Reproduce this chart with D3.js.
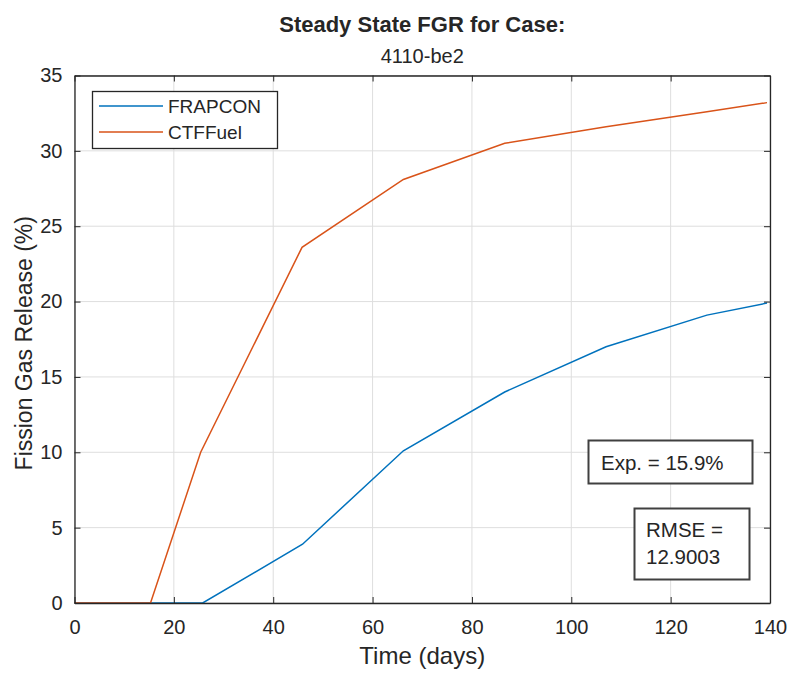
<!DOCTYPE html>
<html>
<head>
<meta charset="utf-8">
<script src="https://cdn.jsdelivr.net/npm/d3@7/dist/d3.min.js"></script>
<style>
  body { margin: 0; background: #fff; }
  svg text { font-family: "Liberation Sans", Arial, sans-serif; fill: #262626; }
</style>
</head>
<body>
<svg id="chart" width="793" height="675"></svg>
<script>
// data
const timeFrapcon = [0, 25.8, 45.9, 66.2, 86.6, 107, 127.3, 139.4];
const fgrFrapcon  = [0, 0, 3.9, 10.1, 14.0, 17.0, 19.1, 19.9];
const timeCtf     = [0, 15.3, 25.4, 45.8, 66.2, 86.6, 107, 127.3, 139.4];
const fgrCtf      = [0, 0, 10.0, 23.6, 28.1, 30.5, 31.6, 32.6, 33.2];

const xTicks = [0, 20, 40, 60, 80, 100, 120, 140];
const yTicks = [0, 5, 10, 15, 20, 25, 30, 35];

const seriesNames = ['FRAPCON', 'CTFFuel'];
const seriesColors = ['#0072BD', '#D95319'];

const expText = 'Exp. = 15.9%';
const rmseLines = ['RMSE =', '12.9003'];

const margin = {left: 74.5, right: 23, top: 75.5, bottom: 72};
const W = 793, H = 675;
const svg = d3.select('#chart');

const x = d3.scaleLinear().domain([0, 140]).range([margin.left, W - margin.right]);
const y = d3.scaleLinear().domain([0, 35]).range([H - margin.bottom, margin.top]);

// grid
const grid = svg.append('g');
grid.selectAll('line.gx').data(xTicks).enter().append('line')
  .attr('x1', d => x(d)).attr('x2', d => x(d))
  .attr('y1', y(0)).attr('y2', y(35))
  .attr('stroke', '#dedede').attr('stroke-width', 1);
grid.selectAll('line.gy').data(yTicks).enter().append('line')
  .attr('x1', x(0)).attr('x2', x(140))
  .attr('y1', d => y(d)).attr('y2', d => y(d))
  .attr('stroke', '#dedede').attr('stroke-width', 1);

// lines
const line = d3.line().x(d => x(d[0])).y(d => y(d[1]));
const frapcon = timeFrapcon.map((t, i) => [t, fgrFrapcon[i]]);
const ctf = timeCtf.map((t, i) => [t, fgrCtf[i]]);

svg.append('path').datum(frapcon)
  .attr('d', line).attr('fill', 'none')
  .attr('stroke', seriesColors[0]).attr('stroke-width', 1.5);
svg.append('path').datum(ctf)
  .attr('d', line).attr('fill', 'none')
  .attr('stroke', seriesColors[1]).attr('stroke-width', 1.5);

// axes, matlab style: ticks inside, box all round
const tickLen = -6;
const xAxis = d3.axisBottom(x).tickValues(xTicks).tickSizeInner(tickLen).tickSizeOuter(0).tickPadding(17);
const yAxis = d3.axisLeft(y).tickValues(yTicks).tickSizeInner(tickLen).tickSizeOuter(0).tickPadding(12);
const xTop = d3.axisTop(x).tickValues(xTicks).tickSizeInner(tickLen).tickSizeOuter(0).tickFormat('');
const yRight = d3.axisRight(y).tickValues(yTicks).tickSizeInner(tickLen).tickSizeOuter(0).tickFormat('');

function styleAxis(g) {
  g.select('.domain').attr('stroke', '#262626').attr('stroke-width', 1.3);
  g.selectAll('.tick line').attr('stroke', '#262626');
  g.selectAll('.tick text').attr('fill', '#262626')
    .style('font-family', '"Liberation Sans", Arial, sans-serif').style('font-size', '20px');
}

svg.append('g').attr('transform', `translate(0,${y(0)})`).call(xAxis).call(styleAxis);
svg.append('g').attr('transform', `translate(${x(0)},0)`).call(yAxis).call(styleAxis);
svg.append('g').attr('transform', `translate(0,${y(35)})`).call(xTop).call(styleAxis);
svg.append('g').attr('transform', `translate(${x(140)},0)`).call(yRight).call(styleAxis);

// titles
const cx = (x(0) + x(140)) / 2;
svg.append('text').attr('x', cx).attr('y', 32)
  .attr('text-anchor', 'middle').style('font-size', '22px').style('font-weight', 'bold')
  .text('Steady State FGR for Case:');
svg.append('text').attr('x', cx).attr('y', 63)
  .attr('text-anchor', 'middle').style('font-size', '20px')
  .text('4110-be2');

svg.append('text').attr('x', cx).attr('y', 664)
  .attr('text-anchor', 'middle').style('font-size', '24px')
  .text('Time (days)');
svg.append('text')
  .attr('transform', `translate(32,${(y(0) + y(35)) / 2 + 4}) rotate(-90)`)
  .attr('text-anchor', 'middle').style('font-size', '23px')
  .text('Fission Gas Release (%)');

// legend
const leg = svg.append('g');
leg.append('rect').attr('x', 92.5).attr('y', 91.5).attr('width', 185).attr('height', 57)
  .attr('fill', '#fff').attr('stroke', '#262626').attr('stroke-width', 1.3);
seriesNames.forEach((name, i) => {
  const ly = 106 + i * 26;
  leg.append('line').attr('x1', 99).attr('x2', 163).attr('y1', ly).attr('y2', ly)
    .attr('stroke', seriesColors[i]).attr('stroke-width', 1.5);
  leg.append('text').attr('x', 168).attr('y', ly + 7).style('font-size', '19px').text(name);
});

// annotation boxes
svg.append('rect').attr('x', 588.5).attr('y', 440.5).attr('width', 164).attr('height', 43)
  .attr('fill', '#fff').attr('stroke', '#404040').attr('stroke-width', 2);
svg.append('text').attr('x', 601).attr('y', 470).style('font-size', '20.5px').text(expText);

svg.append('rect').attr('x', 634.5).attr('y', 508.5).attr('width', 115).attr('height', 71)
  .attr('fill', '#fff').attr('stroke', '#404040').attr('stroke-width', 2);
rmseLines.forEach((t, i) => {
  svg.append('text').attr('x', 646).attr('y', 537 + i * 27).style('font-size', '20.5px').text(t);
});
</script>
</body>
</html>
